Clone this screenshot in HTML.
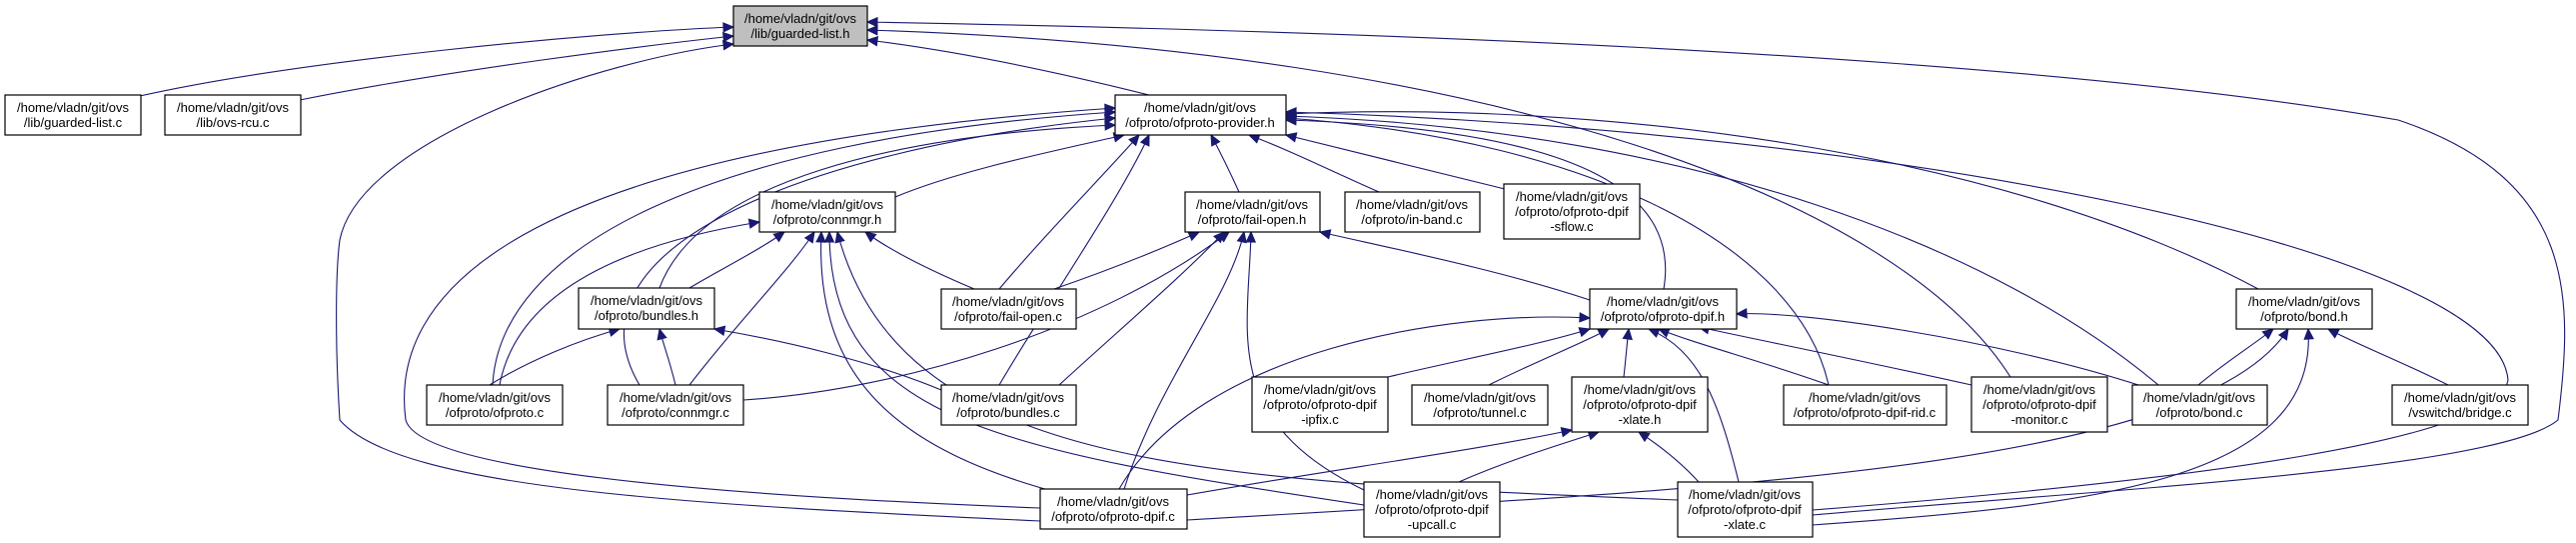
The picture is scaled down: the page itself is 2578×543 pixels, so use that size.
<!DOCTYPE html>
<html><head><meta charset="utf-8"><style>
html,body{margin:0;padding:0;background:#fff;}
svg{display:block;}
text{font-family:"Liberation Sans",sans-serif;font-size:13px;fill:#000;text-anchor:middle;}
</style></head><body>
<svg id="g" width="2578" height="543" viewBox="0 0 2578 543" xmlns="http://www.w3.org/2000/svg">
<g id="edges" fill="none" stroke="#191970" stroke-width="1.1"></g>
<g id="arrows" fill="#191970" stroke="#191970"></g>
<g stroke="#000" stroke-width="1.2">
<rect x="734" y="6" width="134" height="40" fill="#bfbfbf"/>
<rect x="5" y="95" width="136" height="40" fill="#fff"/>
<rect x="165" y="95" width="136" height="40" fill="#fff"/>
<rect x="1116" y="95" width="171" height="40" fill="#fff"/>
<rect x="760" y="192" width="136" height="40" fill="#fff"/>
<rect x="1186" y="192" width="135" height="40" fill="#fff"/>
<rect x="1346" y="192" width="135" height="40" fill="#fff"/>
<rect x="1505" y="184" width="136" height="55" fill="#fff"/>
<rect x="1591" y="289" width="147" height="40" fill="#fff"/>
<rect x="2238" y="289" width="136" height="40" fill="#fff"/>
<rect x="579" y="288" width="136" height="41" fill="#fff"/>
<rect x="942" y="289" width="135" height="40" fill="#fff"/>
<rect x="427" y="385" width="136" height="40" fill="#fff"/>
<rect x="608" y="385" width="136" height="40" fill="#fff"/>
<rect x="942" y="385" width="135" height="40" fill="#fff"/>
<rect x="1253" y="377" width="136" height="55" fill="#fff"/>
<rect x="1413" y="385" width="136" height="40" fill="#fff"/>
<rect x="1573" y="377" width="136" height="55" fill="#fff"/>
<rect x="1785" y="385" width="163" height="40" fill="#fff"/>
<rect x="1973" y="377" width="136" height="55" fill="#fff"/>
<rect x="2134" y="385" width="135" height="40" fill="#fff"/>
<rect x="2394" y="385" width="136" height="40" fill="#fff"/>
<rect x="1041" y="489" width="147" height="40" fill="#fff"/>
<rect x="1365" y="482" width="136" height="55" fill="#fff"/>
<rect x="1679" y="482" width="135" height="55" fill="#fff"/>
</g>
<g>
<text x="801" y="23">/home/vladn/git/ovs</text><text x="801" y="38">/lib/guarded-list.h</text>
<text x="73" y="112">/home/vladn/git/ovs</text><text x="73" y="127">/lib/guarded-list.c</text>
<text x="233" y="112">/home/vladn/git/ovs</text><text x="233" y="127">/lib/ovs-rcu.c</text>
<text x="1201" y="112">/home/vladn/git/ovs</text><text x="1201" y="127">/ofproto/ofproto-provider.h</text>
<text x="828" y="209">/home/vladn/git/ovs</text><text x="828" y="224">/ofproto/connmgr.h</text>
<text x="1253" y="209">/home/vladn/git/ovs</text><text x="1253" y="224">/ofproto/fail-open.h</text>
<text x="1413" y="209">/home/vladn/git/ovs</text><text x="1413" y="224">/ofproto/in-band.c</text>
<text x="1573" y="201">/home/vladn/git/ovs</text><text x="1573" y="216">/ofproto/ofproto-dpif</text><text x="1573" y="231">-sflow.c</text>
<text x="1664" y="306">/home/vladn/git/ovs</text><text x="1664" y="321">/ofproto/ofproto-dpif.h</text>
<text x="2306" y="306">/home/vladn/git/ovs</text><text x="2306" y="321">/ofproto/bond.h</text>
<text x="647" y="305">/home/vladn/git/ovs</text><text x="647" y="320">/ofproto/bundles.h</text>
<text x="1009" y="306">/home/vladn/git/ovs</text><text x="1009" y="321">/ofproto/fail-open.c</text>
<text x="495" y="402">/home/vladn/git/ovs</text><text x="495" y="417">/ofproto/ofproto.c</text>
<text x="676" y="402">/home/vladn/git/ovs</text><text x="676" y="417">/ofproto/connmgr.c</text>
<text x="1009" y="402">/home/vladn/git/ovs</text><text x="1009" y="417">/ofproto/bundles.c</text>
<text x="1321" y="394">/home/vladn/git/ovs</text><text x="1321" y="409">/ofproto/ofproto-dpif</text><text x="1321" y="424">-ipfix.c</text>
<text x="1481" y="402">/home/vladn/git/ovs</text><text x="1481" y="417">/ofproto/tunnel.c</text>
<text x="1641" y="394">/home/vladn/git/ovs</text><text x="1641" y="409">/ofproto/ofproto-dpif</text><text x="1641" y="424">-xlate.h</text>
<text x="1866" y="402">/home/vladn/git/ovs</text><text x="1866" y="417">/ofproto/ofproto-dpif-rid.c</text>
<text x="2041" y="394">/home/vladn/git/ovs</text><text x="2041" y="409">/ofproto/ofproto-dpif</text><text x="2041" y="424">-monitor.c</text>
<text x="2201" y="402">/home/vladn/git/ovs</text><text x="2201" y="417">/ofproto/bond.c</text>
<text x="2462" y="402">/home/vladn/git/ovs</text><text x="2462" y="417">/vswitchd/bridge.c</text>
<text x="1114" y="506">/home/vladn/git/ovs</text><text x="1114" y="521">/ofproto/ofproto-dpif.c</text>
<text x="1433" y="499">/home/vladn/git/ovs</text><text x="1433" y="514">/ofproto/ofproto-dpif</text><text x="1433" y="529">-upcall.c</text>
<text x="1746" y="499">/home/vladn/git/ovs</text><text x="1746" y="514">/ofproto/ofproto-dpif</text><text x="1746" y="529">-xlate.c</text>
</g>
</svg>
<script>
var E=[
[[140,96],[300,60],[600,32],[734,27]],
[[300,100],[450,70],[650,45],[734,36]],
[[1150,95],[1050,70],[950,50],[868,40]],
[[1041,521],[700,505],[400,490],[340,420],[335,340],[336,270],[340,240],[360,140],[600,60],[734,44]],
[[2012,377],[1900,200],[1500,50],[868,30]],
[[1814,515],[2100,490],[2500,470],[2560,420],[2575,300],[2580,180],[2400,120],[2000,50],[1300,30],[868,22]],
[[493,385],[500,250],[700,140],[1116,112]],
[[640,385],[560,250],[800,150],[1116,118]],
[[660,288],[700,180],[900,135],[1116,125]],
[[1041,508],[700,495],[420,470],[406,420],[390,300],[500,150],[1116,108]],
[[896,197],[960,170],[1060,150],[1125,135]],
[[1000,289],[1050,230],[1100,180],[1140,135]],
[[1000,385],[1050,300],[1120,200],[1150,135]],
[[1240,192],[1230,170],[1220,150],[1212,135]],
[[1380,192],[1330,170],[1290,150],[1250,135]],
[[1510,190],[1430,170],[1350,150],[1287,135]],
[[1665,289],[1680,200],[1600,130],[1287,120]],
[[2260,289],[2000,150],[1600,100],[1287,114]],
[[1830,385],[1800,250],[1600,140],[1287,118]],
[[2160,385],[2000,250],[1700,130],[1287,116]],
[[1814,510],[2200,480],[2500,440],[2510,380],[2500,250],[1900,130],[1287,112]],
[[690,288],[720,270],[760,250],[785,232]],
[[500,385],[520,280],[650,240],[760,222]],
[[690,385],[740,320],[790,270],[815,232]],
[[975,289],[930,270],[890,250],[866,232]],
[[1060,493],[900,450],[815,380],[822,232]],
[[1365,505],[1000,450],[830,420],[830,232]],
[[1679,500],[1200,480],[900,470],[838,232]],
[[490,385],[530,360],[580,340],[620,329]],
[[676,385],[670,360],[664,345],[660,329]],
[[942,390],[870,360],[780,340],[715,329]],
[[1055,289],[1110,270],[1160,250],[1200,232]],
[[744,400],[900,390],[1100,330],[1230,232]],
[[1060,385],[1120,330],[1190,270],[1225,232]],
[[1125,489],[1160,380],[1230,300],[1245,232]],
[[1365,490],[1220,420],[1250,330],[1252,232]],
[[1591,300],[1500,270],[1400,250],[1321,232]],
[[1389,377],[1460,360],[1540,345],[1591,329]],
[[1490,385],[1540,360],[1580,345],[1610,329]],
[[1625,377],[1627,360],[1628,345],[1630,329]],
[[1830,385],[1760,360],[1700,345],[1660,329]],
[[1973,385],[1860,360],[1760,340],[1700,327]],
[[2140,385],[2000,340],[1800,310],[1738,314]],
[[1120,489],[1200,350],[1450,310],[1591,318]],
[[1740,482],[1720,400],[1700,350],[1650,329]],
[[1188,495],[1330,470],[1480,450],[1573,430]],
[[1460,482],[1510,460],[1560,445],[1600,432]],
[[1700,482],[1680,460],[1660,445],[1640,432]],
[[2200,385],[2230,360],[2255,345],[2275,329]],
[[2450,385],[2400,360],[2360,345],[2330,329]],
[[1188,520],[1700,490],[2200,470],[2290,329]],
[[1814,525],[2100,505],[2320,480],[2310,329]]
];
var ns="http://www.w3.org/2000/svg",ge=document.getElementById("edges"),ga=document.getElementById("arrows");
E.forEach(function(p){
  var d="M"+p[0][0]+","+p[0][1];
  for(var i=1;i+2<p.length;i+=3){d+=" C"+p[i]+" "+p[i+1]+" "+p[i+2];}
  var n=p.length,e=p[n-1],c=p[n-2];
  var dx=e[0]-c[0],dy=e[1]-c[1],L=Math.sqrt(dx*dx+dy*dy)||1;dx/=L;dy/=L;
  var bx=e[0]-dx*10,by=e[1]-dy*10;
  // shorten path end to arrow base
  var path=document.createElementNS(ns,"path");
  path.setAttribute("d",d);ge.appendChild(path);
  var poly=document.createElementNS(ns,"polygon");
  poly.setAttribute("points",e[0]+","+e[1]+" "+(bx-dy*4.5)+","+(by+dx*4.5)+" "+(bx+dy*4.5)+","+(by-dx*4.5));
  ga.appendChild(poly);
});
</script>
</body></html>
